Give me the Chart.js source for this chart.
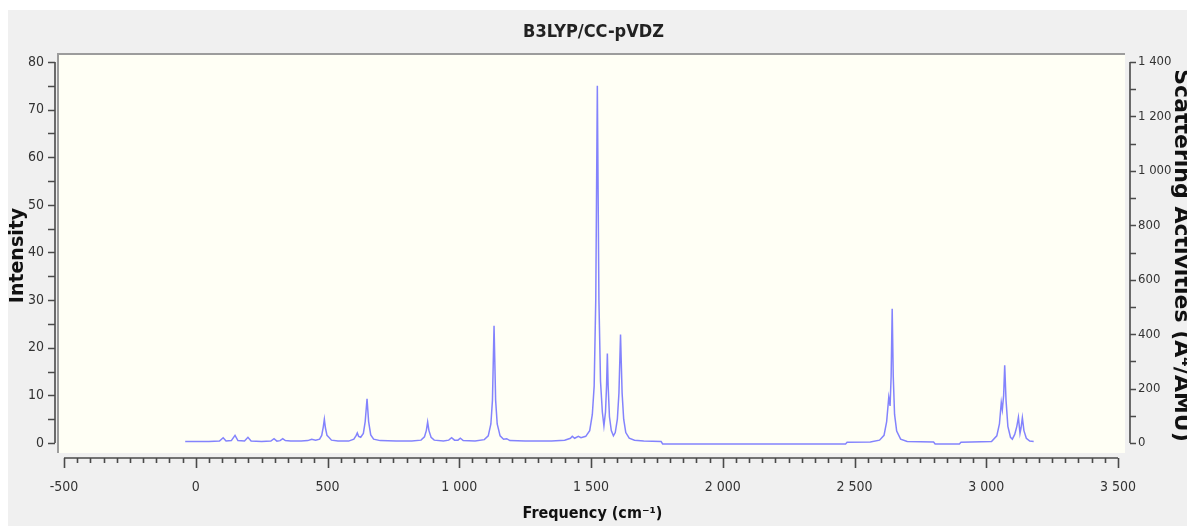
<!DOCTYPE html>
<html>
<head>
<meta charset="utf-8">
<script src="https://cdn.jsdelivr.net/npm/chart.js@4.4.1/dist/chart.umd.min.js"></script>
<style>
  html, body { margin: 0; padding: 0; background: #fff; }
  #wrap { width: 1187px; height: 526px; }
</style>
</head>
<body>
<div id="wrap"><canvas id="spectrum" width="1187" height="526"></canvas></div>
<script>
// spectrum: frequency (cm-1) and intensity
const freq = [
  -40, 0, 50, 90, 104, 115, 135, 149, 160, 185, 198, 210, 250, 285, 297, 308, 320, 330, 340, 360,
  400, 425, 440, 455, 470, 478, 484, 488, 492, 498, 505, 515, 540, 580, 600, 609, 613, 618, 626, 636,
  643, 650, 656, 664, 675, 700, 760, 820, 855, 868, 875, 880, 885, 893, 905, 940, 960, 971, 982, 995,
  1004, 1015, 1060, 1095, 1110, 1120, 1126, 1132, 1138, 1144, 1155, 1168, 1180, 1192, 1250, 1350, 1400, 1422, 1429, 1438,
  1452, 1462, 1480, 1495, 1505, 1512, 1518, 1524, 1530, 1536, 1543, 1549, 1555, 1559, 1562, 1565, 1570, 1577, 1585, 1592,
  1600, 1606, 1612, 1618, 1624, 1632, 1645, 1665, 1700, 1766, 1772, 2000, 2466, 2472, 2560, 2595, 2612, 2622, 2630, 2635,
  2639, 2643, 2647, 2652, 2660, 2675, 2700, 2800, 2806, 2898, 2904, 3020, 3040, 3050, 3057, 3061, 3066, 3070, 3075, 3082,
  3092, 3099, 3108, 3116, 3122, 3128, 3132, 3137, 3143, 3152, 3165, 3180
];
const intensity = [
  0.3, 0.3, 0.3, 0.4, 1.1, 0.4, 0.5, 1.6, 0.5, 0.4, 1.2, 0.4, 0.3, 0.4, 0.9, 0.4, 0.5, 0.9, 0.5, 0.4,
  0.4, 0.5, 0.8, 0.6, 0.8, 1.6, 3.4, 5.0, 3.2, 1.6, 1.2, 0.6, 0.4, 0.4, 0.8, 1.6, 2.1, 1.4, 1.2, 2.0,
  4.5, 9.3, 4.5, 1.7, 0.8, 0.5, 0.4, 0.4, 0.6, 1.3, 2.6, 4.4, 2.6, 1.2, 0.6, 0.4, 0.6, 1.1, 0.6, 0.6,
  1.0, 0.5, 0.4, 0.7, 1.5, 4.0, 9.0, 24.6, 9.0, 4.0, 1.5, 0.8, 0.9, 0.5, 0.4, 0.4, 0.6, 1.0, 1.4, 1.0,
  1.4, 1.1, 1.4, 2.6, 6.0, 12, 30, 75, 30, 13, 6.5, 3.6, 6.5, 12, 18.8, 12, 5.5, 2.6, 1.5, 2.2,
  5, 10.5, 22.8, 10.5, 5, 2.2, 1.0, 0.6, 0.4, 0.3, -0.2, -0.2, -0.2, 0.15, 0.2, 0.6, 1.6, 4.5, 9.6, 7.8,
  14, 28.2, 14, 6, 2.5, 0.8, 0.3, 0.2, -0.2, -0.2, 0.15, 0.3, 1.5, 4, 8.5, 7.0, 10, 16.3, 9, 3.5,
  1.2, 0.8, 1.8, 3.5, 5.4, 2.0, 3.2, 5.3, 2.6, 1.0, 0.4, 0.3
];

const titleText = 'B3LYP/CC-pVDZ';
const xTitle = 'Frequency (cm\u207B\u00B9)';
const yTitle = 'Intensity';
const y2Title = 'Scattering Activities (A\u2074/AMU)';

const xRange = [-500, 3500];
const yRange = [0, 80];
const y2Range = [0, 1400];

const narrow = "'DejaVu Sans Condensed', 'Liberation Sans Narrow', sans-serif";
const wide = "'DejaVu Sans', sans-serif";

function fmt(v) {
  const s = String(Math.abs(v)).replace(/\B(?=(\d{3})+(?!\d))/g, ' ');
  return v < 0 ? '-' + s : s;
}

function keep(lo, hi) {
  return scale => { scale.ticks = scale.ticks.filter(t => t.value >= lo - 1e-6 && t.value <= hi + 1e-6); };
}

// backgrounds, plot frame, axis lines and tick marks
const frame = {
  id: 'frame',
  beforeDraw(chart) {
    const ctx = chart.ctx;
    ctx.save();
    ctx.fillStyle = '#ffffff';
    ctx.fillRect(0, 0, chart.width, chart.height);
    ctx.fillStyle = '#f0f0f0';
    ctx.fillRect(8, 10, chart.width - 8, chart.height - 10);
    ctx.fillStyle = '#fffff5';
    ctx.fillRect(58, 53, 1125 - 58, 453 - 53);
    ctx.strokeStyle = '#9c9c9c';
    ctx.lineWidth = 2;
    ctx.beginPath();
    ctx.moveTo(58, 453);
    ctx.lineTo(58, 54);
    ctx.lineTo(1125, 54);
    ctx.stroke();
    ctx.restore();
  },
  afterDraw(chart) {
    const ctx = chart.ctx;
    const {x, y, y2} = chart.scales;
    const area = chart.chartArea;
    ctx.save();
    ctx.strokeStyle = '#4a4a4a';
    ctx.lineWidth = 1.6;
    ctx.beginPath();
    // left axis
    ctx.moveTo(area.left, y.getPixelForValue(yRange[1]));
    ctx.lineTo(area.left, y.getPixelForValue(yRange[0]));
    y.ticks.forEach(t => {
      const py = Math.round(y.getPixelForValue(t.value)) + 0.5;
      ctx.moveTo(area.left, py);
      ctx.lineTo(area.left - 7, py);
    });
    // right axis
    ctx.moveTo(area.right, y2.getPixelForValue(y2Range[1]));
    ctx.lineTo(area.right, y2.getPixelForValue(y2Range[0]));
    y2.ticks.forEach(t => {
      const py = Math.round(y2.getPixelForValue(t.value)) + 0.5;
      ctx.moveTo(area.right, py);
      ctx.lineTo(area.right + 6, py);
    });
    // bottom axis
    ctx.moveTo(x.getPixelForValue(xRange[0]), area.bottom);
    ctx.lineTo(x.getPixelForValue(xRange[1]), area.bottom);
    x.ticks.forEach(t => {
      const px = Math.round(x.getPixelForValue(t.value)) + 0.5;
      ctx.moveTo(px, area.bottom);
      ctx.lineTo(px, area.bottom + (t.value % 500 === 0 ? 10 : 5));
    });
    ctx.stroke();
    ctx.restore();
  }
};

const points = freq.map((f, i) => ({x: f, y: intensity[i]}));

new Chart(document.getElementById('spectrum'), {
  type: 'line',
  data: {
    datasets: [{
      data: points,
      borderColor: 'rgba(100, 100, 255, 0.8)',
      borderWidth: 1.5,
      pointRadius: 0,
      tension: 0,
      yAxisID: 'y'
    }]
  },
  options: {
    responsive: false,
    animation: false,
    events: [],
    layout: { padding: 0 },
    plugins: {
      legend: { display: false },
      tooltip: { enabled: false },
      title: {
        display: true,
        text: titleText,
        color: '#222',
        font: { family: narrow, size: 18, weight: 'bold', lineHeight: 1.2 },
        padding: { top: 22, bottom: 9.4 }
      }
    },
    scales: {
      x: {
        type: 'linear',
        min: -534.2,
        max: 3545.5,
        afterFit: s => { s.height = 68; },
        afterBuildTicks: keep(xRange[0], xRange[1]),
        grid: { display: false, drawTicks: false },
        border: { display: false },
        ticks: {
          stepSize: 50,
          includeBounds: false,
          autoSkip: false,
          maxRotation: 0,
          padding: 21,
          color: '#333',
          font: { family: narrow, size: 14 },
          callback: v => (v % 500 === 0 ? fmt(v) : '')
        },
        title: {
          display: true,
          text: xTitle,
          color: '#111',
          font: { family: narrow, size: 16, weight: 'bold', lineHeight: 1.2 },
          padding: { top: 0, bottom: 3 }
        }
      },
      y: {
        position: 'left',
        min: -3.15,
        max: 81.89,
        afterFit: s => { s.width = 55; },
        afterBuildTicks: keep(yRange[0], yRange[1]),
        grid: { display: false, drawTicks: false },
        border: { display: false },
        ticks: {
          stepSize: 5,
          includeBounds: false,
          autoSkip: false,
          padding: 11,
          color: '#333',
          font: { family: narrow, size: 14 },
          callback: v => (v % 10 === 0 ? fmt(v) : '')
        },
        title: {
          display: true,
          text: yTitle,
          color: '#111',
          font: { family: wide, size: 19, weight: 'bold', lineHeight: 1.2 },
          padding: { top: 7, bottom: 0 }
        }
      },
      y2: {
        position: 'right',
        min: -55.1,
        max: 1433.1,
        afterFit: s => { s.width = 57; },
        afterBuildTicks: keep(y2Range[0], y2Range[1]),
        grid: { display: false, drawTicks: false },
        border: { display: false },
        ticks: {
          stepSize: 100,
          includeBounds: false,
          autoSkip: false,
          padding: 8,
          color: '#333',
          font: { family: narrow, size: 13 },
          callback: v => (v % 200 === 0 ? fmt(v) : '')
        },
        title: {
          display: true,
          text: y2Title,
          color: '#111',
          font: { family: wide, size: 22, weight: 'bold', lineHeight: 1.2 },
          padding: { top: -7, bottom: 0 }
        }
      }
    }
  },
  plugins: [frame]
});
</script>
</body>
</html>
